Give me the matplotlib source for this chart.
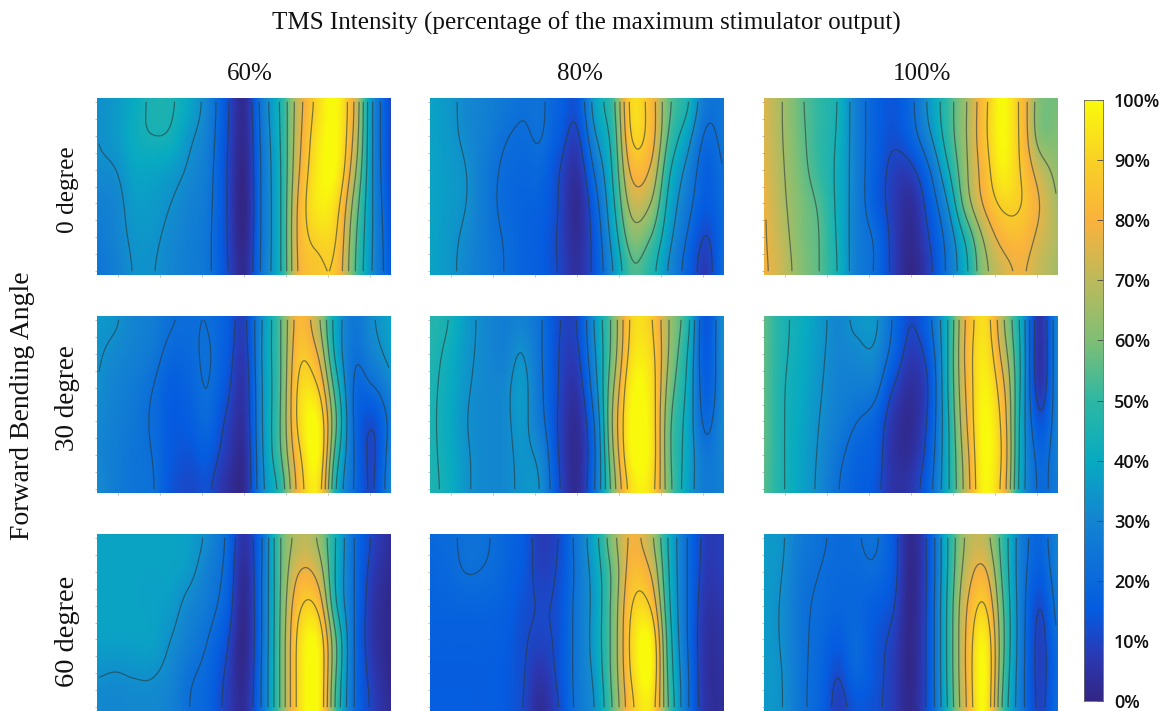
import numpy as np
import matplotlib
matplotlib.use("Agg")
import matplotlib.pyplot as plt
from matplotlib.colors import LinearSegmentedColormap

# values in percent, rows top to bottom, columns left to right
p_0_60 = [[33,35,39,45,45,41,30,14,3,27,46,72,90,100,77,33,11],
          [33,36,42,45,44,35,28,13,2,25,45,74,94,100,75,33,10],
          [32,33,38,38,36,32,26,12,1,24,44,76,96,100,70,33,10],
          [28,30,36,36,33,29,25,12,0,24,44,80,97,92,62,33,12],
          [26,30,34,34,31,28,24,12,1,24,44,80,90,88,58,33,14],
          [23,27,33,33,30,27,24,13,3,25,44,78,84,84,56,32,16]]
p_0_80 = [[38,35,31,29,27,24,23,18,16,40,55,92,82,58,49,28,24],
          [38,35,31,28,23,21,23,16,10,33,50,90,84,55,38,21,25],
          [38,36,33,26,21,19,19,11,5,24,47,80,76,46,30,17,22],
          [38,36,33,26,20,18,17,11,2,18,43,70,66,41,26,16,21],
          [38,35,31,26,22,18,16,10,3,15,38,60,54,36,21,10,20],
          [38,35,30,26,22,18,16,11,5,14,32,50,45,30,17,7,22]]
p_0_100 = [[75,66,56,50,44,28,18,14,20,36,50,65,84,100,85,62,58],
           [75,66,57,50,43,28,18,13,19,33,50,66,86,100,85,60,60],
           [76,67,58,50,42,28,17,9,9,21,43,64,82,98,87,72,62],
           [78,68,60,54,42,28,16,8,3,15,33,62,80,90,89,78,66],
           [78,70,60,55,43,28,22,9,2,11,25,44,66,80,82,74,68],
           [79,72,62,55,44,28,21,9,0,8,24,42,62,70,76,70,64]]
p_30_60 = [[36,35,30,28,24,22,21,17,10,33,55,80,66,40,26,33,38],
           [34,31,29,26,20,20,23,16,8,34,55,85,76,40,24,30,37],
           [33,29,26,22,16,18,22,14,6,33,55,90,88,50,21,22,30],
           [31,28,25,21,15,16,20,10,5,33,56,92,100,58,21,11,24],
           [30,27,24,22,15,13,15,8,3,32,55,85,100,50,22,10,28],
           [33,27,24,23,13,10,11,3,2,30,45,80,92,42,21,11,30]]
p_30_80 = [[48,45,36,31,28,27,23,12,12,36,60,90,88,66,50,14,33],
           [47,42,35,31,28,33,23,11,10,33,60,92,92,66,44,15,33],
           [46,41,34,31,31,36,24,11,6,30,66,98,95,62,42,17,30],
           [46,40,33,31,31,35,25,10,3,24,70,100,96,58,40,20,32],
           [46,41,34,31,31,34,31,11,2,22,66,100,97,58,40,26,30],
           [46,42,34,31,31,34,33,13,3,24,60,90,92,60,38,27,28]]
p_30_100 = [[56,46,42,36,31,36,36,22,13,22,44,77,92,66,40,6,30],
            [56,46,41,35,30,31,32,20,8,16,44,80,95,72,42,5,30],
            [56,45,40,34,29,28,26,11,4,12,44,78,98,80,42,6,30],
            [56,45,39,33,28,22,17,6,2,14,42,76,100,84,40,14,28],
            [56,45,38,32,24,18,16,5,4,16,42,72,100,86,40,20,28],
            [54,45,38,31,22,17,13,6,8,20,42,70,98,82,38,21,26]]
p_60_60 = [[38,38,38,38,38,37,33,22,7,22,55,66,62,44,22,11,4],
           [38,38,38,38,38,36,28,20,3,23,55,76,72,43,22,8,2],
           [38,38,38,37,36,30,26,18,2,23,56,86,85,44,22,6,1],
           [38,38,38,38,33,28,22,13,1,23,57,92,99,58,22,6,1],
           [33,32,33,33,30,23,19,10,2,24,57,92,100,55,22,8,1],
           [30,30,30,30,28,22,18,9,4,24,57,92,100,52,22,10,3]]
p_60_80 = [[20,21,23,23,19,16,8,11,26,42,66,77,66,42,22,9,8],
           [18,20,23,22,19,15,9,12,24,38,58,82,76,44,22,8,9],
           [18,18,18,18,17,13,11,13,25,37,60,88,86,46,22,6,6],
           [17,17,17,17,16,12,10,13,25,38,60,92,100,50,22,5,5],
           [16,16,16,16,15,12,6,13,25,36,60,90,100,52,24,5,4],
           [16,16,16,16,15,11,2,10,24,33,56,84,92,55,24,6,3]]
p_60_100 = [[36,34,27,24,21,22,24,15,2,15,44,66,66,50,28,19,30],
            [36,33,25,22,20,20,21,15,1,14,44,70,78,52,27,17,28],
            [36,32,24,21,19,19,16,12,1,15,46,76,88,56,27,11,26],
            [36,32,24,20,16,20,14,9,1,15,46,78,98,58,27,9,22],
            [36,33,24,19,11,19,14,8,1,15,46,78,100,56,26,9,20],
            [35,33,24,18,8,11,12,8,2,15,44,76,98,52,26,10,22]]

panels = [[p_0_60, p_0_80, p_0_100],
          [p_30_60, p_30_80, p_30_100],
          [p_60_60, p_60_80, p_60_100]]
col_labels = ["60%", "80%", "100%"]
row_labels = ["0 degree", "30 degree", "60 degree"]
cbar_ticks = [0, 10, 20, 30, 40, 50, 60, 70, 80, 90, 100]
contour_levels = [11, 22, 33, 44, 55, 66, 77, 88]

W, H = 1163, 711
col_x = [97, 430, 764]
row_y = [98, 316, 534]
pw, ph = 294, 177
col_label_x = [250, 580, 922]
row_label_y = [190, 398, 631]
row_label_size = [18.2, 19.5, 20.4]

cmap = LinearSegmentedColormap.from_list("parula_like", [
    (0.00, (0.20, 0.15, 0.52)),
    (0.07, (0.17, 0.22, 0.70)),
    (0.15, (0.02, 0.36, 0.88)),
    (0.30, (0.08, 0.52, 0.82)),
    (0.40, (0.03, 0.67, 0.76)),
    (0.50, (0.18, 0.72, 0.64)),
    (0.60, (0.50, 0.75, 0.46)),
    (0.70, (0.74, 0.73, 0.36)),
    (0.80, (0.98, 0.70, 0.24)),
    (0.90, (0.98, 0.82, 0.15)),
    (1.00, (0.98, 0.98, 0.05))])


def px_axes(fig, x, y, w, h):
    return fig.add_axes([x / W, 1 - (y + h) / H, w / W, h / H])


def catmull(z, n):
    # cubic resample along axis 0, only so the drawn field looks round
    m = z.shape[0]
    t = np.linspace(0, m - 1, n)
    i = np.clip(t.astype(int), 0, m - 2)
    u = (t - i)[:, None]
    p = np.vstack([2 * z[0] - z[1], z, 2 * z[-1] - z[-2]])
    p0, p1, p2, p3 = p[i], p[i + 1], p[i + 2], p[i + 3]
    return 0.5 * (2 * p1 + (p2 - p0) * u + (2 * p0 - 5 * p1 + 4 * p2 - p3) * u ** 2
                  + (3 * p1 - p0 - 3 * p2 + p3) * u ** 3)


def round_field(z):
    f = catmull(z, 141)  # along rows
    # soften row to row noise so contours run without wiggles
    k = np.exp(-0.5 * (np.arange(-30, 31) / 12.0) ** 2)
    k = k / k.sum()
    f = np.vstack([f[30:0:-1], f, f[-2:-32:-1]])
    f = np.apply_along_axis(lambda v: np.convolve(v, k, mode="valid"), 0, f)
    f = catmull(f.T, 295).T  # along columns
    return f


fig = plt.figure(figsize=(W / 100, H / 100), dpi=100)
serif = "Liberation Serif"

for r in range(3):
    for c in range(3):
        z = round_field(np.array(panels[r][c], dtype=float))
        ax = px_axes(fig, col_x[c], row_y[r], pw, ph)
        ax.imshow(z, cmap=cmap, vmin=0, vmax=100, interpolation="bilinear",
                  extent=(0, 1, 1, 0), aspect="auto")
        # contour lines stop a little short of the panel edge
        xc = np.linspace(0, 1, z.shape[1])
        yc = np.linspace(0, 1, z.shape[0])
        xkeep = (xc > 0.005) & (xc < 0.995)
        ykeep = (yc > 0.02) & (yc < 0.98)
        ax.contour(xc[xkeep], yc[ykeep], z[ykeep][:, xkeep], levels=contour_levels,
                   colors="#2a3a3a", linewidths=0.9, alpha=0.6)
        ax.set_xlim(0, 1)
        ax.set_ylim(1, 0)
        ax.set_xticks(np.linspace(0.07, 0.93, 7))
        ax.set_yticks(np.linspace(0.02, 0.98, 11))
        ax.tick_params(length=1.5, width=0.4, color="#888888",
                       labelbottom=False, labelleft=False)
        for s in ax.spines.values():
            s.set_visible(False)

fig.text(586 / W, 1 - 23 / H, "TMS Intensity (percentage of the maximum stimulator output)",
         family=serif, fontsize=18.1, ha="center", va="center", color="#111111")
for c in range(3):
    fig.text(col_label_x[c] / W, 1 - 74 / H, col_labels[c], family=serif,
             fontsize=18, ha="center", va="center", color="#111111")
for r in range(3):
    fig.text(68 / W, 1 - row_label_y[r] / H, row_labels[r], family=serif,
             fontsize=row_label_size[r], rotation=90, ha="center", va="center", color="#111111")
fig.text(23 / W, 1 - 406 / H, "Forward Bending Angle", family=serif, fontsize=20,
         rotation=90, ha="center", va="center", color="#111111")

# colorbar
cax = px_axes(fig, 1084, 100, 19, 601)
grad = np.linspace(100, 0, 256).reshape(-1, 1)
cax.imshow(grad, cmap=cmap, vmin=0, vmax=100, aspect="auto", extent=(0, 1, 0, 100))
cax.set_xticks([])
cax.yaxis.tick_right()
cax.set_yticks(cbar_ticks)
cax.set_yticklabels([str(t) + "%" for t in cbar_ticks], family="Open Sans",
                    fontweight="semibold", fontsize=13, color="#111111")
cax.tick_params(axis="y", direction="in", length=4, width=0.6, color="#444444", pad=8)
for s in cax.spines.values():
    s.set_linewidth(0.6)
    s.set_color("#666666")

fig.savefig("out.png", dpi=100)
